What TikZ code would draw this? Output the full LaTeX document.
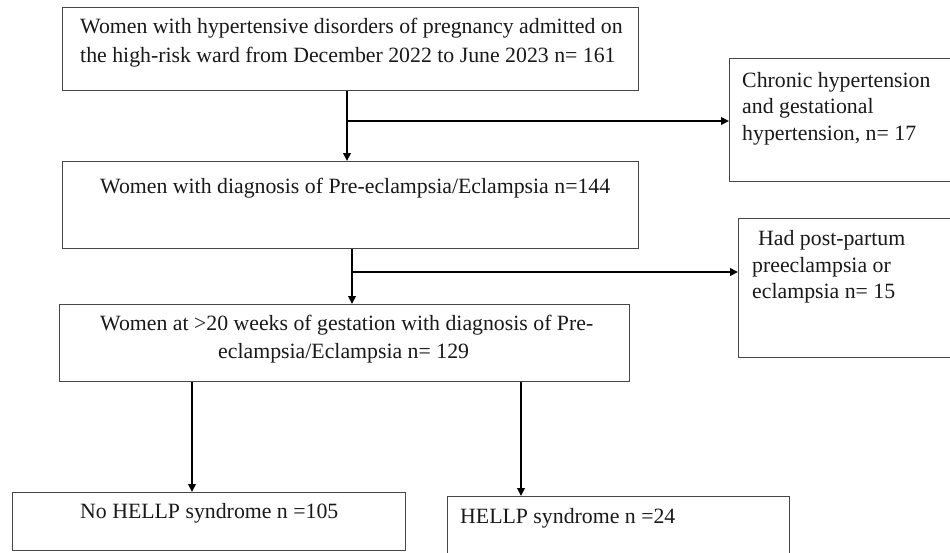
\documentclass[tikz,border=0pt]{standalone}
\usepackage{fontspec}
\setmainfont{Liberation Serif}
\usetikzlibrary{arrows.meta}
\begin{document}
\begin{tikzpicture}[x=1pt,y=-1pt,
  box/.style={draw=black!72,line width=1.4pt,anchor=north west,inner sep=0pt,fill=none},
  txt/.style={anchor=base west,inner sep=0pt,font=\fontsize{21.8}{27}\selectfont,text=black!90},
  arr/.style={draw=black,line width=2.2pt,-{Triangle[length=8pt,width=7.5pt]}}]
\clip (0,0) rectangle (950,552);
\fill[white] (0,0) rectangle (950,552);
% boxes
\node[box,minimum width=576pt,minimum height=83pt] (b1) at (62,7) {};
\node[box,minimum width=230pt,minimum height=123pt] (rb1) at (729,58) {};
\node[box,minimum width=576pt,minimum height=87pt] (b2) at (62,161) {};
\node[box,minimum width=220pt,minimum height=139pt] (rb2) at (738,218) {};
\node[box,minimum width=570pt,minimum height=77pt] (b3) at (59,304) {};
\node[box,minimum width=393pt,minimum height=58pt] (b4) at (12,492) {};
\node[box,minimum width=342pt,minimum height=64pt] (b5) at (447,496) {};
% texts
\node[txt] (t1a) at (80,33) {Women with hypertensive disorders of pregnancy admitted on};
\node[txt] (t1b) at (80,62) {the high-risk ward from December 2022 to June 2023 n= 161};
\node[txt] (r1a) at (742,87) {Chronic hypertension};
\node[txt] (r1b) at (742,113) {and gestational};
\node[txt] (r1c) at (742,140) {hypertension, n= 17};
\node[txt] (t2) at (100,193) {Women with diagnosis of Pre-eclampsia/Eclampsia n=144};
\node[txt] (r2a) at (758,245) {Had post-partum};
\node[txt] (r2b) at (752,272) {preeclampsia or};
\node[txt] (r2c) at (752,298) {eclampsia n= 15};
\node[txt] (t3a) at (100,330) {Women at >20 weeks of gestation with diagnosis of Pre-};
\node[txt] (t3b) at (218,358) {eclampsia/Eclampsia n= 129};
\node[txt] (t4) at (80,518) {No HELLP syndrome n =105};
\node[txt] (t5) at (460,523) {HELLP syndrome n =24};
% connectors
\coordinate (x1) at (347,0);
\coordinate (x2) at (352,0);
\coordinate (x3) at (192,0);
\coordinate (x4) at (521,0);
\coordinate (j1) at (347,121);
\coordinate (j2) at (352,272);
\draw[arr] (b1.south -| x1) -- (b2.north -| x1);
\draw[arr] (j1) -- (j1 -| rb1.west);
\draw[arr] (b2.south -| x2) -- (b3.north -| x2);
\draw[arr] (j2) -- (j2 -| rb2.west);
\draw[arr] (b3.south -| x3) -- (b4.north -| x3);
\draw[arr] (b3.south -| x4) -- (b5.north -| x4);
\end{tikzpicture}
\end{document}
